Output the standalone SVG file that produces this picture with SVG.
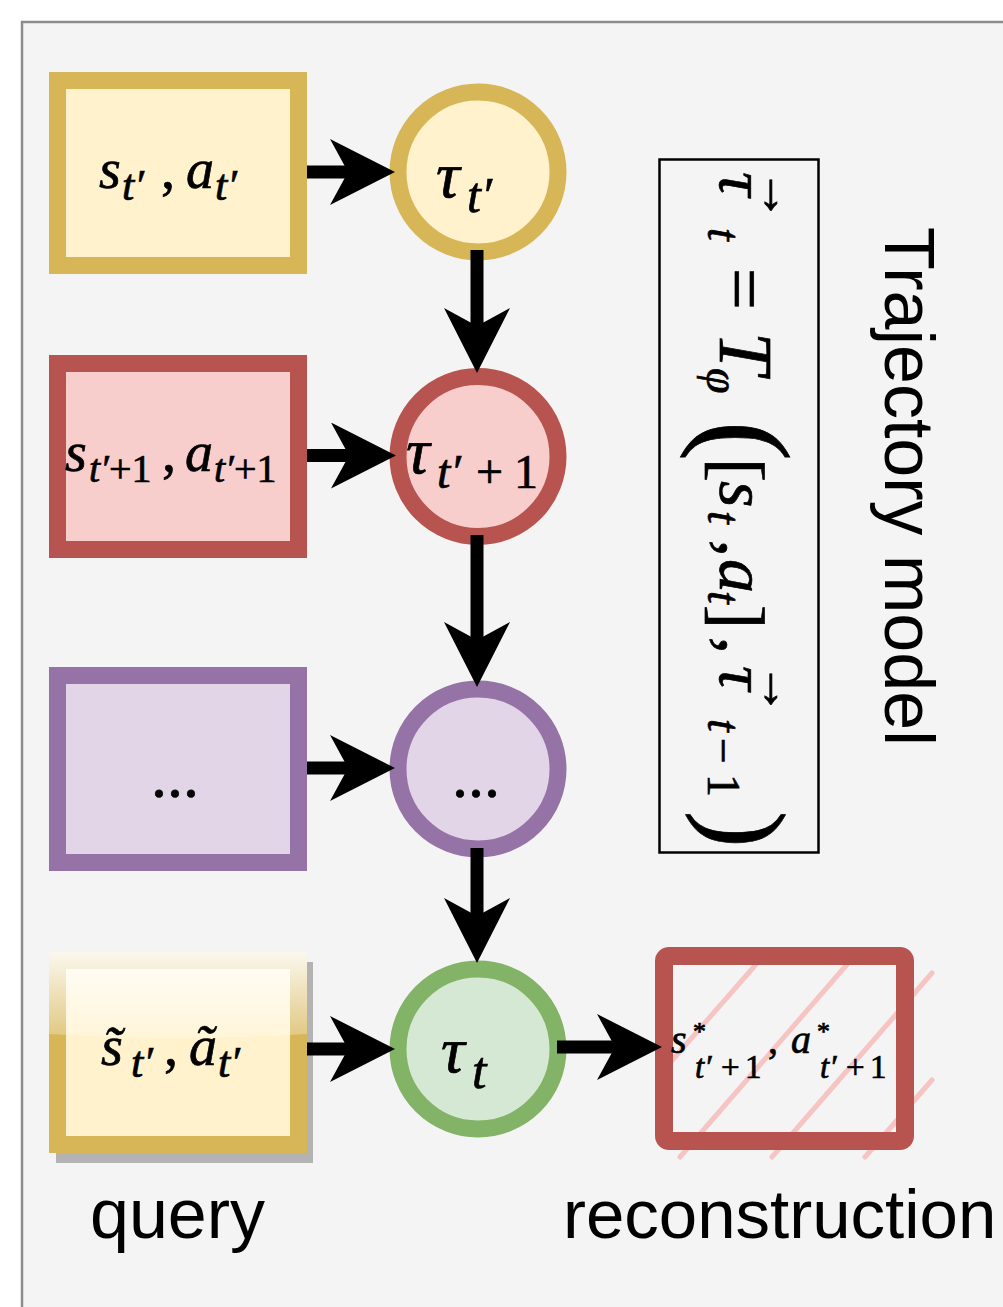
<svg xmlns="http://www.w3.org/2000/svg" width="1003" height="1307" viewBox="0 0 1003 1307">
  <defs>
    <style>
      .box{stroke-width:17}
      .yel{fill:#fff2cc;stroke:#d6b656}
      .red{fill:#f8cecc;stroke:#b85450}
      .pur{fill:#e1d5e7;stroke:#9673a6}
      .grn{fill:#d5e8d4;stroke:#82b366}
      .mi{font-family:"Liberation Serif","DejaVu Serif",serif;font-style:italic;fill:#000;stroke:#000;stroke-width:0.7}
      .up{font-style:normal}
      .sans{font-family:"Liberation Sans",Arial,sans-serif;fill:#000}
      .edge{fill:none;stroke:#000;stroke-width:13}
      .hatch{stroke:#f6c4c2;stroke-width:5;stroke-linecap:round;fill:none}
    </style>
    <marker id="ah" viewBox="0 0 65 66" markerUnits="userSpaceOnUse" markerWidth="65" markerHeight="66" refX="20" refY="33" orient="auto">
      <path d="M0,0 L65,33 L0,66 L18,33 Z" fill="#000"/>
    </marker>
    <linearGradient id="glass" x1="0" y1="0" x2="0" y2="1">
      <stop offset="0" stop-color="#fff" stop-opacity="0.9"/>
      <stop offset="1" stop-color="#fff" stop-opacity="0.25"/>
    </linearGradient>
  </defs>

  <rect x="0" y="0" width="1003" height="1307" fill="#ffffff"/>
  <rect x="22" y="22" width="1010" height="1310" fill="#f4f4f4" stroke="#8c8c8c" stroke-width="2.5"/>

  <!-- input boxes -->
  <g id="box1">
    <rect class="box yel" x="57.5" y="80.5" width="241" height="185"/>
    <text class="mi" font-size="56"><tspan x="99" y="188">s</tspan><tspan x="122" y="200" font-size="44">t′</tspan><tspan x="161" y="188" class="up">,</tspan><tspan x="186" y="188">a</tspan><tspan x="215" y="200" font-size="44">t′</tspan></text>
  </g>
  <g id="box2">
    <rect class="box red" x="57.5" y="363.5" width="241" height="186"/>
    <text class="mi" font-size="56"><tspan x="65" y="471">s</tspan><tspan x="89" y="482" font-size="40">t′</tspan><tspan font-size="40" class="up">+1</tspan><tspan x="162" y="471" class="up">,</tspan><tspan x="185" y="471">a</tspan><tspan x="214" y="482" font-size="40">t′</tspan><tspan font-size="40" class="up">+1</tspan></text>
  </g>
  <g id="box3">
    <rect class="box pur" x="57.5" y="675.5" width="241" height="187"/>
    <text class="mi up" font-size="64" x="175" y="797" text-anchor="middle">...</text>
  </g>
  <g id="query">
    <rect x="56" y="962" width="257" height="201" fill="#b3b3b3"/>
    <rect class="box yel" x="57.5" y="960.5" width="241" height="184"/>
    <path d="M49,952 H307 V1034 Q178,1042 49,1034 Z" fill="url(#glass)"/>
    <text class="mi" font-size="56"><tspan x="101" y="1065">s̃</tspan><tspan x="131" y="1077" font-size="44">t′</tspan><tspan x="164" y="1065" class="up">,</tspan><tspan x="189" y="1065">ã</tspan><tspan x="218" y="1077" font-size="44">t′</tspan></text>
  </g>

  <!-- trajectory nodes -->
  <g id="tau1">
    <circle class="box yel" cx="478" cy="172" r="80"/>
    <text class="mi" font-size="66"><tspan x="436" y="197">τ</tspan><tspan x="467" y="212" font-size="50">t′</tspan></text>
  </g>
  <g id="tau2">
    <circle class="box red" cx="478" cy="456.5" r="80"/>
    <text class="mi" font-size="66"><tspan x="406" y="473">τ</tspan><tspan x="437" y="488" font-size="48">t′</tspan><tspan x="476" y="488" font-size="48" class="up">+</tspan><tspan x="514" y="488" font-size="48" class="up">1</tspan></text>
  </g>
  <g id="tau3">
    <circle class="box pur" cx="478" cy="769" r="80"/>
    <text class="mi up" font-size="64" x="476" y="797" text-anchor="middle">...</text>
  </g>
  <g id="tau4">
    <circle class="box grn" cx="478" cy="1049" r="80"/>
    <text class="mi" font-size="66"><tspan x="441" y="1072">τ</tspan><tspan x="472" y="1088" font-size="52">t</tspan></text>
  </g>

  <!-- reconstruction -->
  <g id="reconstruction">
    <path class="hatch" d="M661,1073 L759,961 M680,1157 L850,961 M772,1157 L932,973 M865,1157 L932,1080"/>
    <rect x="664" y="956" width="241" height="185" rx="5" fill="none" stroke="#b85450" stroke-width="18"/>
    <text class="mi" font-size="40"><tspan x="671" y="1053">s</tspan><tspan x="693" y="1040" font-size="26" class="up">*</tspan><tspan x="695" y="1078" font-size="33">t′</tspan><tspan x="721" y="1078" font-size="33" class="up">+</tspan><tspan x="745" y="1078" font-size="33" class="up">1</tspan><tspan x="768" y="1053" class="up">,</tspan><tspan x="791" y="1053">a</tspan><tspan x="817" y="1040" font-size="26" class="up">*</tspan><tspan x="820" y="1078" font-size="33">t′</tspan><tspan x="846" y="1078" font-size="33" class="up">+</tspan><tspan x="870" y="1078" font-size="33" class="up">1</tspan></text>
  </g>

  <!-- formula -->
  <g id="formula">
    <rect x="659.5" y="159.5" width="159" height="693" fill="none" stroke="#000" stroke-width="2.5"/>
    <g transform="translate(720,168) rotate(90)">
      <text class="mi" font-size="68"><tspan x="4" y="0">τ</tspan><tspan x="60" y="12" font-size="46">t</tspan><tspan x="100" y="0" font-size="74" class="up">=</tspan><tspan x="164" y="0" font-size="76">T</tspan><tspan x="200" y="13" font-size="46">φ</tspan><tspan x="253" y="14" font-size="120" class="up">(</tspan><tspan x="290" y="5" font-size="72" class="up">[</tspan><tspan x="313" y="0">s</tspan><tspan x="343" y="12" font-size="46">t</tspan><tspan x="372" y="0" class="up">,</tspan><tspan x="391" y="0">a</tspan><tspan x="423" y="12" font-size="46">t</tspan><tspan x="437" y="5" font-size="72" class="up">]</tspan><tspan x="469" y="0" class="up">,</tspan><tspan x="498" y="0">τ</tspan><tspan x="551" y="12" font-size="46">t</tspan><tspan x="570" y="12" font-size="46" class="up">−</tspan><tspan x="606" y="12" font-size="46" class="up">1</tspan><tspan x="643" y="11" font-size="110" class="up">)</tspan></text>
      <text class="mi up" font-size="52"><tspan x="1" y="-42">→</tspan><tspan x="495" y="-42">→</tspan></text>
    </g>
  </g>

  <g id="title">
    <text class="sans" font-size="70" transform="translate(885,227) rotate(90)" x="0" y="0">Trajectory model</text>
  </g>
  <g id="labels">
    <text class="sans" font-size="70" x="90" y="1238">query</text>
    <text class="sans" font-size="69" x="563" y="1238">reconstruction</text>
  </g>

  <!-- connectors -->
  <g id="connectors">
    <path class="edge" marker-end="url(#ah)" d="M307,172 H350"/>
    <path class="edge" marker-end="url(#ah)" d="M307,455.5 H351"/>
    <path class="edge" marker-end="url(#ah)" d="M307,768 H350"/>
    <path class="edge" marker-end="url(#ah)" d="M307,1049 H350"/>
    <path class="edge" marker-end="url(#ah)" d="M557,1047 H617"/>
    <path class="edge" marker-end="url(#ah)" d="M477,250 V328"/>
    <path class="edge" marker-end="url(#ah)" d="M477,535 V642"/>
    <path class="edge" marker-end="url(#ah)" d="M477,848 V918"/>
  </g>
</svg>
